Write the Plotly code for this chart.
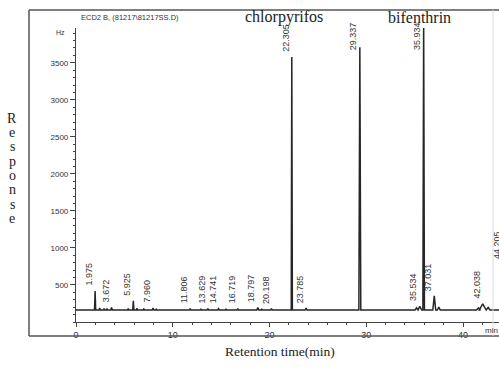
import plotly.graph_objects as go

# ---- chromatogram data (ECD2 B) ----
baseline = 162

# labelled peaks: retention time (min), apex response, half width (min)
peak_rt = [1.975, 3.672, 5.925, 7.960, 11.806, 13.629, 14.741, 16.719,
           18.797, 20.198, 22.305, 23.785, 29.337, 35.534, 35.934, 37.031,
           42.038, 44.205]
peak_height = [420, 198, 285, 188, 182, 182, 180, 182,
               196, 182, 3580, 188, 3710, 212, 4150, 352,
               245, 780]
peak_halfwidth = [0.06, 0.08, 0.06, 0.08, 0.08, 0.08, 0.08, 0.08,
                  0.1, 0.08, 0.06, 0.1, 0.1, 0.2, 0.08, 0.15,
                  0.35, 0.08]
peak_labels = ["1.975", "3.672", "5.925", "7.960", "11.806", "13.629",
               "14.741", "16.719", "18.797", "20.198", "22.305", "23.785",
               "29.337", "35.534", "35.934", "37.031", "42.038", "44.205"]

# small unlabelled bumps on the baseline
bump_rt = [2.45, 2.9, 3.2, 5.4, 6.3, 7.0, 8.3, 12.9, 15.5, 19.2,
           24.8, 25.8, 26.8, 27.8, 35.2, 37.5, 41.6, 42.6]
bump_height = [188, 182, 180, 182, 185, 180, 178, 176, 176, 178,
               172, 170, 170, 170, 190, 200, 190, 195]
bump_halfwidth = [0.06, 0.06, 0.06, 0.06, 0.06, 0.06, 0.06, 0.06, 0.06, 0.06,
                  0.08, 0.08, 0.08, 0.08, 0.15, 0.15, 0.2, 0.2]

x_ticks = [0, 10, 20, 30, 40]
y_ticks = [500, 1000, 1500, 2000, 2500, 3000, 3500]

# ---- assemble the trace from the peak table ----
events = sorted(
    list(zip(peak_rt, peak_height, peak_halfwidth)) +
    list(zip(bump_rt, bump_height, bump_halfwidth))
)
xs, ys = [0.0], [baseline]
for rt, h, w in events:
    xs += [rt - w, rt, rt + w]
    ys += [baseline, h, baseline]
xs.append(46.0)
ys.append(baseline)

# ---- geometry helpers (pixel -> paper) ----
W, H = 499, 367
ML, MR, MT, MB = 76, 0, 28, 45
PW, PH = W - ML - MR, H - MT - MB
X_MAX = PW / 9.675
Y_MAX = 3970


def px(x):
    return (x - ML) / PW


def py(y):
    return (H - MB - y) / PH


fig = go.Figure()
fig.add_trace(go.Scatter(x=xs, y=ys, mode="lines",
                         line=dict(color="#262626", width=1.5),
                         hoverinfo="skip", showlegend=False))

serif = "Liberation Serif, DejaVu Serif, serif"
narrow = "Liberation Sans Narrow, Liberation Sans, Arial, sans-serif"


def note(x, y, text, size, family, xanchor="center", yanchor="middle",
         color="#222222"):
    return dict(x=x, y=y, xref="paper", yref="paper", text=text,
                showarrow=False, xanchor=xanchor, yanchor=yanchor,
                font=dict(family=family, size=size, color=color))


annotations = []
label_cap = 3600
for rt, h, lab in zip(peak_rt, peak_height, peak_labels):
    annotations.append(dict(
        x=rt / X_MAX, y=min(h, label_cap) / Y_MAX, xref="paper", yref="paper",
        text=lab, textangle=-90, showarrow=False, xanchor="center",
        yanchor="bottom", xshift=-6, yshift=3,
        font=dict(family=narrow, size=9, color="#333333")))

# compound names
annotations.append(note(px(284), py(17), "chlorpyrifos", 16, serif))
annotations.append(note(px(419), py(17), "bifenthrin", 16, serif))
# detector / file header
annotations.append(note(px(130), py(17), "ECD2 B, (81217\\81217SS.D)", 7.5,
                        narrow, color="#333333"))
# unit at top of the response axis
annotations.append(note(px(67), py(32), "Hz", 7, narrow, xanchor="right",
                        color="#333333"))
# unit at end of time axis
annotations.append(note(px(483), py(330), "min", 8, narrow, xanchor="left",
                        color="#333333"))
# axis titles
annotations.append(note(px(280), py(352), "Retention time(min)", 13.5, serif))
for i, ch in enumerate("Response"):
    annotations.append(note(px(12), py(118 + i * 14.4), ch, 14, serif))

# outer frame
frame = dict(color="#555555", width=1.5)
shapes = [
    dict(type="line", xref="paper", yref="paper", x0=px(29), x1=px(29),
         y0=py(10), y1=py(336), line=frame),
    dict(type="line", xref="paper", yref="paper", x0=px(29), x1=px(505),
         y0=py(10), y1=py(10), line=frame),
    dict(type="line", xref="paper", yref="paper", x0=px(29), x1=px(505),
         y0=py(336), y1=py(336), line=frame),
    dict(type="line", xref="paper", yref="paper", x0=px(493), x1=px(493),
         y0=py(10), y1=py(336), line=dict(color="#dddddd", width=1)),
]

fig.update_layout(
    width=W, height=H,
    margin=dict(l=ML, r=MR, t=MT, b=MB),
    paper_bgcolor="white", plot_bgcolor="white",
    annotations=annotations, shapes=shapes,
    xaxis=dict(range=[0, X_MAX], tickvals=x_ticks, ticks="outside",
               ticklen=4, tickcolor="#444444", showline=True,
               linecolor="#444444", linewidth=1.2, showgrid=False,
               zeroline=False, minor=dict(dtick=2, ticks="outside", ticklen=2,
                                          tickcolor="#444444"),
               tickfont=dict(family=narrow, size=9, color="#333333")),
    yaxis=dict(range=[0, Y_MAX], tickvals=y_ticks, ticks="outside",
               ticklen=5, tickcolor="#444444", showline=True,
               linecolor="#444444", linewidth=1.2, showgrid=False,
               zeroline=False, minor=dict(dtick=100, ticks="outside",
                                          ticklen=2, tickcolor="#444444"),
               tickfont=dict(family=narrow, size=8, color="#333333")),
)

fig.write_html("out.html")
